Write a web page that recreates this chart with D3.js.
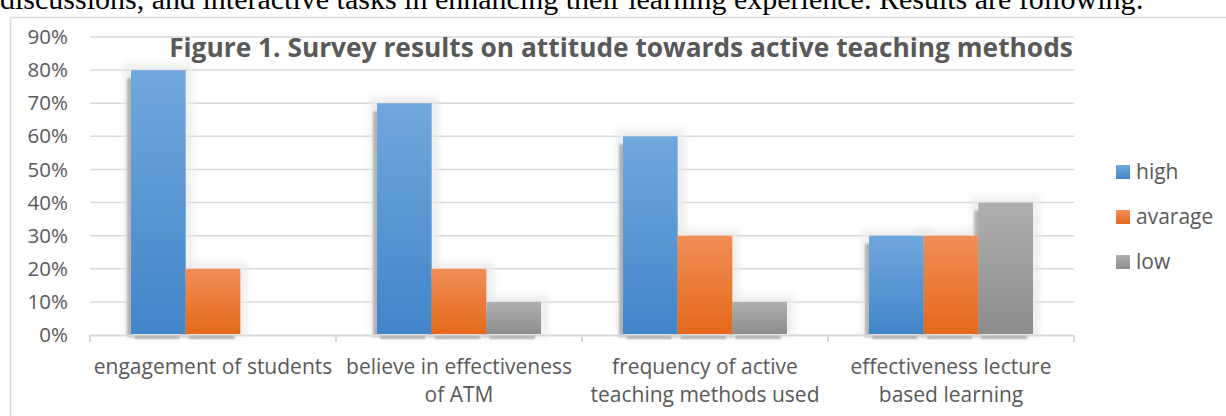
<!DOCTYPE html>
<html>
<head>
<meta charset="utf-8">
<script src="https://cdn.jsdelivr.net/npm/d3@7"></script>
<style>
  html, body { margin: 0; padding: 0; background: #fff; }
  svg { display: block; }
</style>
</head>
<body>
<svg id="chart" width="1226" height="416"></svg>
<script>
// Survey data: share of respondents per answer level, in percent
const categories = [
  "engagement of students",
  "believe in effectiveness of ATM",
  "frequency of active teaching methods used",
  "effectiveness lecture based learning"
];
const categoryLines = [
  ["engagement of students"],
  ["believe in effectiveness", "of ATM"],
  ["frequency of active", "teaching methods used"],
  ["effectiveness lecture", "based learning"]
];
const seriesNames = ["high", "avarage", "low"];
const high = [80, 70, 60, 30];
const avarage = [20, 20, 30, 30];
const low = [0, 10, 10, 40];
const yTicks = [0, 10, 20, 30, 40, 50, 60, 70, 80, 90];
const titleText = "Figure 1. Survey results on attitude towards active teaching methods";
const leadText = "discussions, and interactive tasks in enhancing their learning experience. Results are following:";

const seriesValues = [high, avarage, low];
const gradStops = [
  ["#71a8dd", "#4285c8"],
  ["#f18e57", "#e4691b"],
  ["#afafaf", "#8d8d8d"]
];

const svg = d3.select("#chart");
const textColor = "#595959";
const font = "'Open Sans', Lato, sans-serif";

// paragraph line running above the figure frame
svg.append("text")
  .attr("x", 0).attr("y", 9)
  .attr("font-family", "'Liberation Serif', 'Times New Roman', serif")
  .attr("font-size", 30)
  .attr("fill", "#000")
  .text(leadText);

// figure frame
svg.append("rect")
  .attr("x", 10.5).attr("y", 17.5)
  .attr("width", 1300).attr("height", 500)
  .attr("fill", "none").attr("stroke", "#d9d9d9").attr("stroke-width", 1.5);

const defs = svg.append("defs");
gradStops.forEach((s, i) => {
  const g = defs.append("linearGradient").attr("id", "grad" + i)
    .attr("x1", 0).attr("y1", 0).attr("x2", 0).attr("y2", 1);
  g.append("stop").attr("offset", "0%").attr("stop-color", s[0]);
  g.append("stop").attr("offset", "100%").attr("stop-color", s[1]);
});
defs.append("filter").attr("id", "soft").attr("x", "-50%").attr("y", "-50%").attr("width", "200%").attr("height", "200%")
  .append("feGaussianBlur").attr("stdDeviation", 3);
defs.append("filter").attr("id", "softer").attr("x", "-50%").attr("y", "-50%").attr("width", "200%").attr("height", "200%")
  .append("feGaussianBlur").attr("stdDeviation", 0.8);

const plot = { left: 90, right: 1074, top: 37, bottom: 335 };

const x0 = d3.scaleBand().domain(categories).range([plot.left, plot.right]).padding(0);
const x1 = d3.scaleBand().domain(seriesNames).range([0, x0.bandwidth()])
  .paddingInner(0).paddingOuter(0.75);
const y = d3.scaleLinear().domain([0, 90]).range([plot.bottom, plot.top]);

// horizontal gridlines
svg.append("g")
  .selectAll("line")
  .data(yTicks.filter(t => t > 0))
  .join("line")
  .attr("x1", plot.left).attr("x2", plot.right)
  .attr("y1", d => y(d)).attr("y2", d => y(d))
  .attr("stroke", "#d9d9d9").attr("stroke-width", 1.5);

// y axis labels
const yAxis = d3.axisLeft(y).tickValues(yTicks).tickFormat(d => d + "%").tickSize(0).tickPadding(0);
const yg = svg.append("g").attr("transform", `translate(${plot.left - 22},0)`).call(yAxis);
yg.select(".domain").remove();
yg.selectAll("text")
  .attr("font-family", font).attr("font-size", 20.5).attr("fill", textColor);

// flattened bar records
const bars = [];
categories.forEach((c, ci) => {
  seriesNames.forEach((s, si) => {
    const v = seriesValues[si][ci];
    if (v > 0) bars.push({ c, s, si, v });
  });
});

const bw = x1.bandwidth();
// light halo behind each bar
svg.append("g").selectAll("rect").data(bars).join("rect")
  .attr("x", d => x0(d.c) + x1(d.s) - 7)
  .attr("y", d => y(d.v) - 7)
  .attr("width", bw + 14)
  .attr("height", d => plot.bottom - y(d.v) + 9)
  .attr("fill", "#e8e8e8").attr("opacity", 0.7)
  .attr("filter", "url(#soft)");

// offset shadow on the left edge of each bar
svg.append("g").selectAll("rect").data(bars).join("rect")
  .attr("x", d => x0(d.c) + x1(d.s) - 4)
  .attr("y", d => y(d.v) + 8)
  .attr("width", 6)
  .attr("height", d => plot.bottom - y(d.v) - 6)
  .attr("fill", "#b4b4b4")
  .attr("filter", "url(#softer)");

// category axis line and group ticks
svg.append("line")
  .attr("x1", plot.left).attr("x2", plot.right)
  .attr("y1", plot.bottom + 0.5).attr("y2", plot.bottom + 0.5)
  .attr("stroke", "#d9d9d9").attr("stroke-width", 2);
const boundaries = categories.map(c => x0(c)).concat([plot.right]);
svg.append("g").selectAll("line").data(boundaries).join("line")
  .attr("x1", d => d).attr("x2", d => d)
  .attr("y1", plot.bottom).attr("y2", plot.bottom + 7)
  .attr("stroke", "#d9d9d9").attr("stroke-width", 2);

// ground shadow beneath each bar
svg.append("g").selectAll("rect").data(bars).join("rect")
  .attr("x", d => x0(d.c) + x1(d.s) + 3)
  .attr("y", plot.bottom + 1.5)
  .attr("width", bw - 9)
  .attr("height", 2)
  .attr("fill", "#8a8a8a")
  .attr("filter", "url(#softer)");

// bars
svg.append("g").selectAll("rect").data(bars).join("rect")
  .attr("x", d => x0(d.c) + x1(d.s))
  .attr("y", d => y(d.v))
  .attr("width", bw)
  .attr("height", d => plot.bottom - 1 - y(d.v))
  .attr("fill", d => `url(#grad${d.si})`);

// category labels
const xl = svg.append("g");
categoryLines.forEach((lines, ci) => {
  const cx = x0(categories[ci]) + x0.bandwidth() / 2;
  const t = xl.append("text")
    .attr("text-anchor", "middle")
    .attr("font-family", font).attr("font-size", 21).attr("fill", textColor);
  lines.forEach((ln, li) => {
    t.append("tspan").attr("x", cx).attr("y", 374 + li * 28).text(ln);
  });
});

// title
svg.append("text")
  .attr("x", 621).attr("y", 57)
  .attr("text-anchor", "middle")
  .attr("font-family", font).attr("font-weight", "bold")
  .attr("font-size", 26.3).attr("fill", textColor)
  .text(titleText);

// legend
const lg = svg.append("g");
seriesNames.forEach((s, i) => {
  const cy = 172 + i * 45;
  lg.append("rect").attr("x", 1116).attr("y", cy - 7).attr("width", 14).attr("height", 14)
    .attr("fill", `url(#grad${i})`);
  lg.append("text").attr("x", 1136).attr("y", cy).attr("dy", "0.35em")
    .attr("font-family", font).attr("font-size", 21).attr("fill", textColor)
    .text(s);
});
</script>
</body>
</html>
